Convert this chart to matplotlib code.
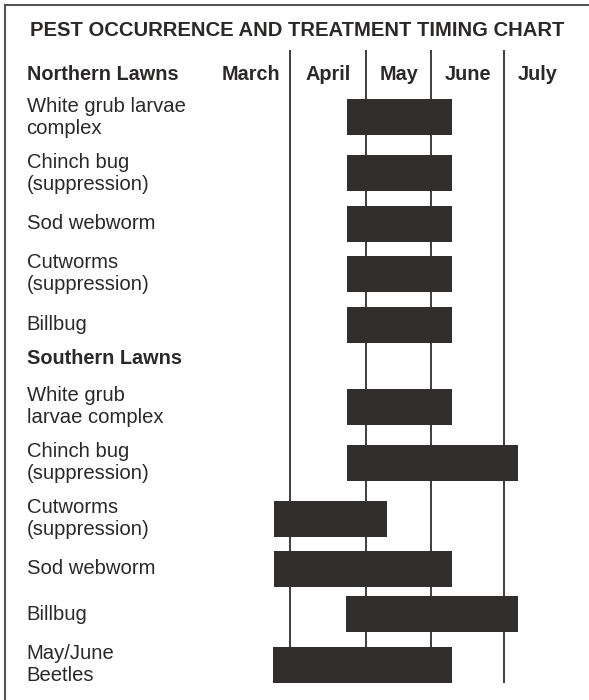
import matplotlib.pyplot as plt
from matplotlib.lines import Line2D

plt.rcParams['font.family'] = ['Liberation Sans', 'DejaVu Sans']

# chart data (x in months, March = 0..1, April = 1..2, ...)
title = 'PEST OCCURRENCE AND TREATMENT TIMING CHART'
months = ['March', 'April', 'May', 'June', 'July']
month_edges = [-0.09, 1.0, 2.07, 2.98, 4.0, 4.93]

north_pests = ['White grub larvae\ncomplex', 'Chinch bug\n(suppression)', 'Sod webworm',
               'Cutworms\n(suppression)', 'Billbug']
north_start = [1.80, 1.80, 1.80, 1.80, 1.80]
north_end = [3.27, 3.27, 3.27, 3.27, 3.27]

south_pests = ['White grub\nlarvae complex', 'Chinch bug\n(suppression)', 'Cutworms\n(suppression)',
               'Sod webworm', 'Billbug', 'May/June\nBeetles']
south_start = [1.80, 1.80, 0.78, 0.78, 1.78, 0.76]
south_end = [3.27, 4.20, 2.36, 3.27, 4.20, 3.27]

groups = [('Northern Lawns', north_pests, north_start, north_end),
          ('Southern Lawns', south_pests, south_start, south_end)]

bar_color = '#322e2d'
text_color = '#2b2828'
line_color = '#403d3d'

fig = plt.figure(figsize=(5.89, 7.0), dpi=100)
ax = fig.add_axes([0, 0, 1, 1])
ax.set_xlim(-3.067, 5.193)
ax.set_ylim(700, 0)
ax.axis('off')

# vertical layout in pixel-like units, row spacing grows with line count
row_ys = []
header_ys = []
y = 117
prev_lines = None
for gi, (name, pests, starts, ends) in enumerate(groups):
    if gi > 0:
        y = row_ys[-1] + 40
        header_ys.append(y)
        y += 42
        prev_lines = None
    else:
        header_ys.append(y - 37)
    for p in pests:
        n = p.count('\n') + 1
        if prev_lines is not None:
            y += 45 + 5.5 * (prev_lines - 1 + n - 1)
        row_ys.append(y)
        prev_lines = n

# month dividers
ax.vlines(month_edges[1:-1], 50, 683, color=line_color, lw=1.4, zorder=1)

# bars and labels
tr = ax.get_yaxis_transform()
k = 0
for gi, (name, pests, starts, ends) in enumerate(groups):
    ax.text(0.045, header_ys[gi], name, transform=tr, ha='left', va='baseline',
            fontsize=14.3, fontweight='bold', color=text_color)
    for p, s, e in zip(pests, starts, ends):
        ax.barh(row_ys[k], e - s, left=s, height=36, color=bar_color, zorder=2)
        ax.text(0.045, row_ys[k], p, transform=tr, ha='left', va='center',
                fontsize=14.6, color=text_color, linespacing=1.2)
        k += 1

# month labels
for i, m in enumerate(months):
    xc = (month_edges[i] + month_edges[i + 1]) / 2
    ax.text(xc, header_ys[0], m, ha='center', va='baseline',
            fontsize=14.3, fontweight='bold', color=text_color)

ax.text(0.505, 36, title, transform=tr, ha='center', va='baseline',
        fontsize=14.6, fontweight='bold', color=text_color)

# frame: top and left edges only
fig.add_artist(Line2D([5 / 589, 1], [1 - 5 / 700, 1 - 5 / 700], color='#555555', lw=1.5))
fig.add_artist(Line2D([5 / 589, 5 / 589], [0, 1 - 5 / 700], color='#555555', lw=1.5))

fig.savefig('out.png', dpi=100)
